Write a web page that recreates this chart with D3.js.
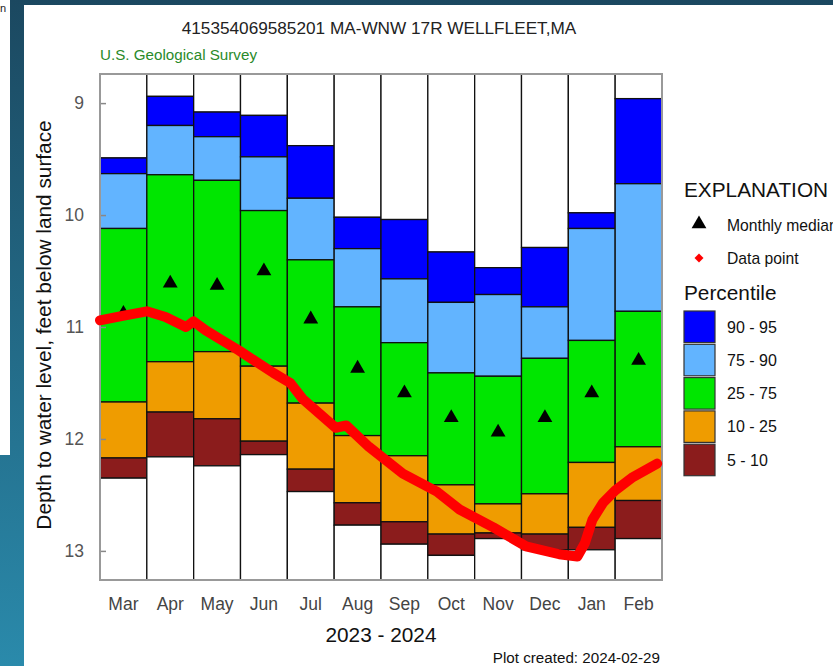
<!DOCTYPE html>
<html><head><meta charset="utf-8">
<script src="https://cdn.jsdelivr.net/npm/d3@7"></script>
<style>
html,body{margin:0;padding:0;background:#fff;}
svg{display:block;font-family:"Liberation Sans",Arial,sans-serif;}
</style></head>
<body>
<svg id="chart" width="833" height="666"></svg>
<script>
// ---- data ----
const months = ["Mar","Apr","May","Jun","Jul","Aug","Sep","Oct","Nov","Dec","Jan","Feb"];
const p95 = [9.49, 8.94, 9.08, 9.11, 9.38, 10.02, 10.04, 10.33, 10.47, 10.29, 9.98, 8.96];
const p90 = [9.63, 9.20, 9.30, 9.48, 9.85, 10.30, 10.57, 10.78, 10.71, 10.82, 10.12, 9.72];
const p75 = [10.12, 9.64, 9.69, 9.96, 10.40, 10.82, 11.14, 11.41, 11.44, 11.28, 11.12, 10.86];
const p25 = [11.67, 11.31, 11.22, 11.35, 11.68, 11.97, 12.15, 12.41, 12.58, 12.49, 12.21, 12.07];
const p10 = [12.17, 11.76, 11.82, 12.02, 12.27, 12.57, 12.74, 12.85, 12.84, 12.85, 12.79, 12.55];
const p5  = [12.35, 12.16, 12.24, 12.14, 12.47, 12.77, 12.94, 13.04, 12.89, 12.99, 12.99, 12.89];
const medians = [10.88, 10.61, 10.63, 10.50, 10.93, 11.37, 11.59, 11.81, 11.94, 11.81, 11.59, 11.30];

const pointDates = ["2023-03-01","2023-03-16","2023-04-01","2023-04-13","2023-04-26","2023-05-01",
  "2023-05-09","2023-05-20","2023-05-31","2023-06-11","2023-06-22","2023-07-03","2023-07-11",
  "2023-08-02","2023-08-09","2023-08-24","2023-09-15","2023-10-07","2023-10-22","2023-11-13",
  "2023-12-04","2023-12-26","2024-01-07","2024-01-12","2024-01-17","2024-01-24","2024-02-01",
  "2024-02-12","2024-02-22","2024-02-27"];
const pointValues = [10.94, 10.90, 10.86, 10.91, 11.00, 10.95,
  11.03, 11.12, 11.21, 11.31, 11.41, 11.50, 11.64,
  11.90, 11.88, 12.07, 12.31, 12.47, 12.63, 12.79,
  12.96, 13.03, 13.05, 12.93, 12.72, 12.57, 12.46,
  12.34, 12.26, 12.22];

const yTicks = [9, 10, 11, 12, 13];
const bandNames = ["90 - 95","75 - 90","25 - 75","10 - 25","5 - 10"];
const bandColors = ["#0000ff","#62b4ff","#00e600","#ef9c00","#8b1c1c"];

// ---- layout ----
const svg = d3.select("#chart");
const L = 100, R = 662, T = 74, B = 580;

// background
const defs = svg.append("defs");
const grad = defs.append("linearGradient").attr("id","bg").attr("x1",0).attr("y1",0).attr("x2",0).attr("y2",1);
grad.append("stop").attr("offset","0%").attr("stop-color","#1b4860");
grad.append("stop").attr("offset","100%").attr("stop-color","#2a8aab");
svg.append("rect").attr("width",833).attr("height",666).attr("fill","url(#bg)");
svg.append("rect").attr("x",0).attr("y",0).attr("width",10).attr("height",455).attr("fill","#fff");
svg.append("text").attr("x",0).attr("y",12).attr("font-size",11).attr("fill","#222").text("n");
svg.append("rect").attr("x",24).attr("y",5).attr("width",809).attr("height",661).attr("fill","#fff");

const x = d3.scaleBand().domain(months).range([L, R]).paddingInner(0).paddingOuter(0);
const y = d3.scaleLinear().domain([8.74, 13.26]).range([T, B]);

// stacked percentile columns
const segs = [];
months.forEach((m, i) => {
  const edges = [y.domain()[0], p95[i], p90[i], p75[i], p25[i], p10[i], p5[i], y.domain()[1]];
  const fills = ["#ffffff", ...bandColors, "#ffffff"];
  for (let k = 0; k < 7; k++) segs.push({m, top: edges[k], bot: edges[k+1], fill: fills[k]});
});
svg.append("g").selectAll("rect").data(segs).join("rect")
  .attr("x", d => x(d.m)).attr("width", x.bandwidth())
  .attr("y", d => y(d.top)).attr("height", d => y(d.bot) - y(d.top))
  .attr("fill", d => d.fill).attr("stroke", "#111").attr("stroke-width", 1.3);

// y axis (ticks inward)
const yAxis = svg.append("g").attr("transform", `translate(${L},0)`)
  .call(d3.axisLeft(y).tickValues(yTicks).tickSizeInner(-6).tickSizeOuter(0).tickPadding(16).tickFormat(d3.format("d")));
yAxis.select(".domain").remove();
yAxis.selectAll("line").attr("stroke", "#888").attr("stroke-width", 1.5);
yAxis.selectAll("text").attr("font-size", 17.5).attr("fill", "#555").attr("font-family", "Liberation Sans, Arial, sans-serif");

// x axis
const xAxis = svg.append("g").attr("transform", `translate(0,${B})`)
  .call(d3.axisBottom(x).tickSize(0).tickPadding(18));
xAxis.select(".domain").remove();
xAxis.selectAll("text").attr("font-size", 17.5).attr("fill", "#444").attr("font-family", "Liberation Sans, Arial, sans-serif");

// frame
svg.append("rect").attr("x", L).attr("y", T).attr("width", R - L).attr("height", B - T)
  .attr("fill", "none").attr("stroke", "#999").attr("stroke-width", 2);

// medians
svg.append("g").selectAll("path").data(months).join("path")
  .attr("transform", (m, i) => `translate(${x(m) + x.bandwidth()/2},${y(medians[i])})`)
  .attr("d", d3.symbol(d3.symbolTriangle, 95)).attr("fill", "#000");

// data points line
const parse = d3.timeParse("%Y-%m-%d");
function xDate(s) {
  const d = parse(s);
  const mi = (d.getMonth() - 2 + 12) % 12;
  const days = new Date(d.getFullYear(), d.getMonth() + 1, 0).getDate();
  return x(months[mi]) + x.bandwidth() * (d.getDate() - 1) / days;
}
const pts = pointDates.map((s, i) => [xDate(s), y(pointValues[i])]);
svg.append("path").attr("d", d3.line()(pts))
  .attr("fill", "none").attr("stroke", "#ff0000").attr("stroke-width", 10)
  .attr("stroke-linejoin", "round").attr("stroke-linecap", "round");

// titles
svg.append("text").attr("x", 379).attr("y", 34).attr("text-anchor", "middle")
  .attr("font-size", 17.2).attr("fill", "#222").text("415354069585201 MA-WNW 17R WELLFLEET,MA");
svg.append("text").attr("x", 100).attr("y", 60)
  .attr("font-size", 15.2).attr("fill", "#2a8a2a").text("U.S. Geological Survey");
svg.append("text").attr("x", 381).attr("y", 642).attr("text-anchor", "middle")
  .attr("font-size", 20.8).attr("fill", "#111").text("2023 - 2024");
svg.append("text").attr("transform", "translate(51,325) rotate(-90)").attr("text-anchor", "middle")
  .attr("font-size", 20.8).attr("fill", "#111").text("Depth to water level, feet below land surface");
svg.append("text").attr("x", 660).attr("y", 663).attr("text-anchor", "end")
  .attr("font-size", 15.2).attr("fill", "#111").text("Plot created: 2024-02-29");

// legend
const lg = svg.append("g");
lg.append("text").attr("x", 684).attr("y", 197).attr("font-size", 20.8).attr("fill", "#111").text("EXPLANATION");
lg.append("path").attr("transform", "translate(699,224)").attr("d", d3.symbol(d3.symbolTriangle, 95)).attr("fill", "#000");
lg.append("text").attr("x", 727).attr("y", 231).attr("font-size", 15.7).attr("fill", "#111").text("Monthly median");
lg.append("path").attr("transform", "translate(699,258) rotate(45)").attr("d", d3.symbol(d3.symbolSquare, 40)).attr("fill", "#ff0000");
lg.append("text").attr("x", 727).attr("y", 264).attr("font-size", 15.7).attr("fill", "#111").text("Data point");
lg.append("text").attr("x", 684).attr("y", 300).attr("font-size", 20.8).attr("fill", "#111").text("Percentile");
const sw = lg.selectAll("g.sw").data(bandNames).join("g").attr("class", "sw")
  .attr("transform", (d, i) => `translate(684,${311 + i * 33.3})`);
sw.append("rect").attr("width", 31).attr("height", 31.5)
  .attr("fill", (d, i) => bandColors[i]).attr("stroke", "#333").attr("stroke-width", 1.2);
sw.append("text").attr("x", 43).attr("y", 21.5).attr("font-size", 16).attr("fill", "#111").text(d => d);
</script>
</body></html>
